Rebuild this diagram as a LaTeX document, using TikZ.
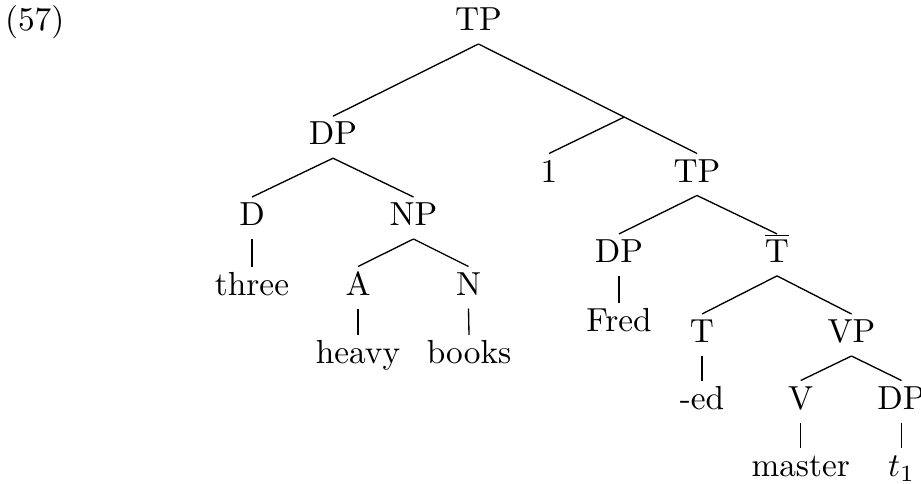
\documentclass[tikz,border=0pt]{standalone}
\usetikzlibrary{calc}
\tikzset{
  lbl/.style={anchor=base, inner sep=0pt, outer sep=0pt},
  br/.style={line width=0.4pt}
}
\newcommand{\dn}[1]{([yshift=-4.05pt]#1.base)}
\newcommand{\up}[1]{([yshift=8.55pt]#1.base)}
\begin{document}
\begin{tikzpicture}[x=0.3pt,y=-0.3pt]
\useasboundingbox (0,0) rectangle (921,483);
% labels
\node[lbl] (ex) at (34.7,30.5) {(57)};
\node[lbl] (tp0) at (478.5,30.5) {TP};
\node[lbl] (dp1) at (333,144.7) {DP};
\node[lbl] (one) at (549,182) {1};
\node[lbl] (tp2) at (697,182) {TP};
\node[lbl] (d) at (252,225.5) {D};
\node[lbl] (np) at (413.5,225.5) {NP};
\node[lbl] (three) at (252,295) {three};
\node[lbl] (a) at (358,295) {A};
\node[lbl] (n) at (468.5,295) {N};
\node[lbl] (heavy) at (358,363.5) {heavy};
\node[lbl] (books) at (469,363.5) {books};
\node[lbl] (dp3) at (619,262.4) {DP};
\node[lbl] (tbar) at (777,262.4) {$\overline{\mbox{T}}$};
\node[lbl] (fred) at (619,331.2) {Fred};
\node[lbl] (t) at (702,342.5) {T};
\node[lbl] (vp) at (851.5,342.5) {VP};
\node[lbl] (ed) at (702,409) {-ed};
\node[lbl] (v) at (800.7,409) {V};
\node[lbl] (dp4) at (901.5,409) {DP};
\node[lbl] (master) at (800.7,476.2) {master};
\node[lbl] (t1) at (901.5,476.2) {$t_1$};
% branches
\draw[br] \dn{tp0} -- \up{dp1};
\draw[br] \dn{tp0} -- \up{tp2};
\coordinate (tp0d) at ([yshift=-4.05pt]tp0.base);
\coordinate (tp2u) at ([yshift=8.55pt]tp2.base);
\coordinate (j) at ($(tp0d)!0.667!(tp2u)$);
\draw[br] (j) -- \up{one};
\draw[br] \dn{dp1} -- \up{d};
\draw[br] \dn{dp1} -- \up{np};
\draw[br] \dn{d} -- \up{three};
\draw[br] \dn{np} -- \up{a};
\draw[br] \dn{np} -- \up{n};
\draw[br] \dn{a} -- \up{heavy};
\draw[br] \dn{n} -- \up{books};
\draw[br] \dn{tp2} -- \up{dp3};
\draw[br] \dn{tp2} -- \up{tbar};
\draw[br] \dn{dp3} -- \up{fred};
\draw[br] \dn{tbar} -- \up{t};
\draw[br] \dn{tbar} -- \up{vp};
\draw[br] \dn{t} -- \up{ed};
\draw[br] \dn{vp} -- \up{v};
\draw[br] \dn{vp} -- \up{dp4};
\draw[br] \dn{v} -- \up{master};
\draw[br] \dn{dp4} -- \up{t1};
\end{tikzpicture}
\end{document}
